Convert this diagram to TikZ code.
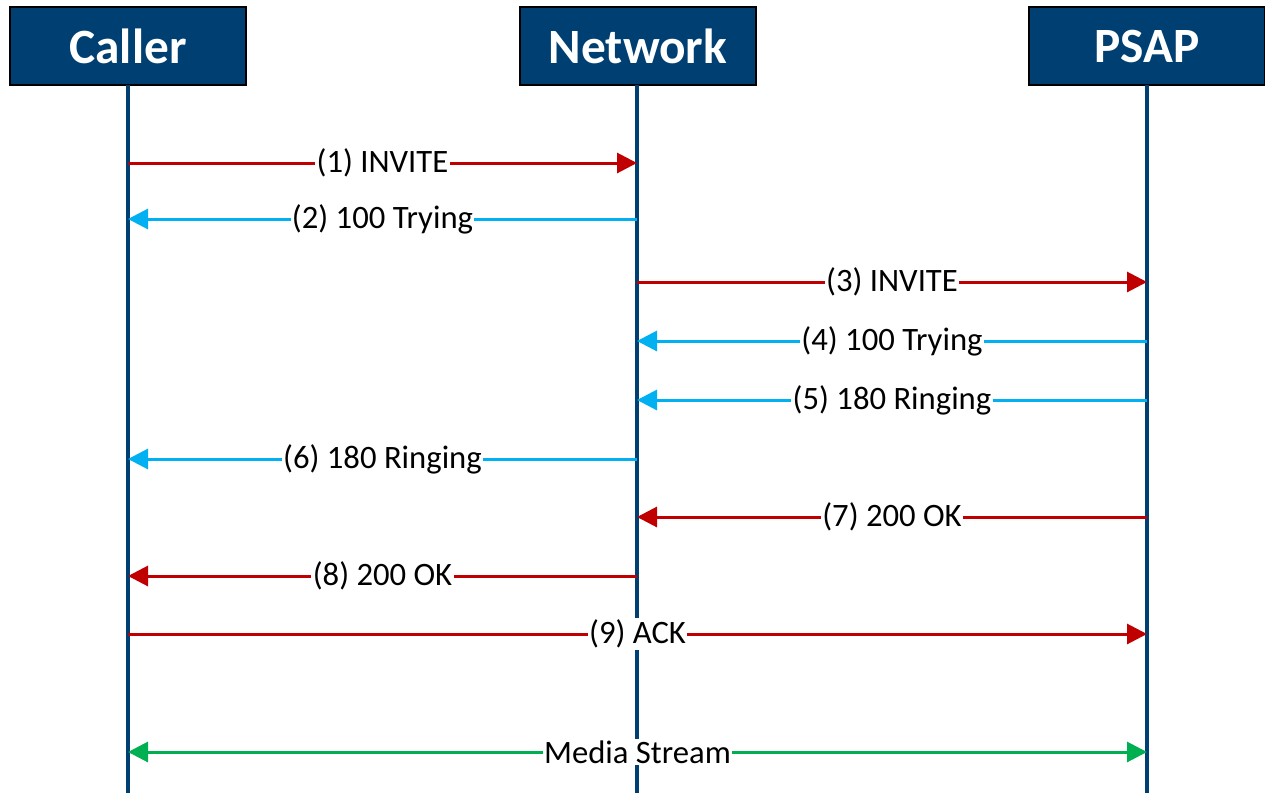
\documentclass[tikz,border=0pt]{standalone}
\usepackage{fontspec}
\setmainfont{Carlito}
\usetikzlibrary{arrows.meta}
\definecolor{navy}{RGB}{0,63,114}
\definecolor{sipred}{RGB}{192,0,0}
\definecolor{sipblue}{RGB}{0,176,240}
\definecolor{sipgreen}{RGB}{0,176,80}
\tikzset{
  actor/.style={draw=black, line width=0.8pt, fill=navy, text=white,
    minimum width=177pt, minimum height=58.5pt, inner sep=0pt,
    font=\fontsize{37}{40}\selectfont\bfseries},
  lifeline/.style={draw=navy, line width=3pt},
  msg/.style={line width=2.25pt, -{Triangle[length=15pt,width=15pt]}},
  media/.style={line width=2.25pt, {Triangle[length=15pt,width=15pt]}-{Triangle[length=15pt,width=15pt]}},
  msglabel/.style={fill=white, inner xsep=1pt, inner ysep=1pt, text=black,
    font=\fontsize{24.5}{28}\selectfont}
}
\begin{document}
\begin{tikzpicture}[x=0.75pt, y=-0.75pt]
\useasboundingbox (0,0) rectangle (1265,793);

% participants
\node[actor] (caller)  at (128,46)  {Caller};
\node[actor] (network) at (638,46)  {Network};
\node[actor] (psap)    at (1147,46) {PSAP};

% lifeline ends
\coordinate (cEnd) at (128,793);
\coordinate (nEnd) at (637,793);
\coordinate (pEnd) at (1147,793);
\draw[lifeline] (128,85) -- (cEnd);
\draw[lifeline] (637,85) -- (nEnd);
\draw[lifeline] (1147,85) -- (pEnd);

% message anchor points on each lifeline
\foreach \i/\y in {1/163,2/219,3/282,4/341,5/400,6/459,7/517,8/576,9/634,10/752}{
  \coordinate (c\i) at (128,\y);
  \coordinate (n\i) at (637,\y);
  \coordinate (p\i) at (1147,\y);
}

% messages
\draw[msg, sipred]  (c1) -- (n1) node[midway, msglabel] {(1) INVITE};
\draw[msg, sipblue] (n2) -- (c2) node[midway, msglabel] {(2) 100 Trying};
\draw[msg, sipred]  (n3) -- (p3) node[midway, msglabel] {(3) INVITE};
\draw[msg, sipblue] (p4) -- (n4) node[midway, msglabel] {(4) 100 Trying};
\draw[msg, sipblue] (p5) -- (n5) node[midway, msglabel] {(5) 180 Ringing};
\draw[msg, sipblue] (n6) -- (c6) node[midway, msglabel] {(6) 180 Ringing};
\draw[msg, sipred]  (p7) -- (n7) node[midway, msglabel] {(7) 200 OK};
\draw[msg, sipred]  (n8) -- (c8) node[midway, msglabel] {(8) 200 OK};
\draw[msg, sipred]  (c9) -- (p9) node[midway, msglabel] {(9) ACK};
\draw[media, sipgreen] (c10) -- (p10) node[midway, msglabel] {Media Stream};
\end{tikzpicture}
\end{document}
